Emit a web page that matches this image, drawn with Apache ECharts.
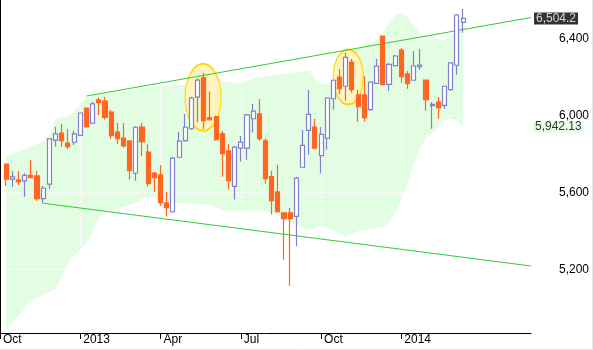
<!DOCTYPE html>
<html>
<head>
<meta charset="utf-8">
<script src="https://cdn.jsdelivr.net/npm/echarts@6/dist/echarts.min.js"></script>
<style>html,body{margin:0;padding:0;background:#fff}#c{width:593px;height:350px}</style>
</head>
<body>
<div id="c"></div>
<script>
// Weekly categories starting at the first visible quarter tick (Mon 2012-10-01)
const startDate = Date.UTC(2012, 9, 1);
const weekCount = 87;
const categories = [];
for (let c = 0; c < weekCount; c++) {
  categories.push(new Date(startDate + c * 7 * 86400000).toISOString().slice(0, 10));
}
const firstCandleIndex = 1; // 2012-10-08

const tickDates = ['2012-10-01', '2012-12-31', '2013-04-01', '2013-07-01', '2013-09-30', '2013-12-30'];
const tickLabels = ['Oct', '2013', 'Apr', 'Jul', 'Oct', '2014'];
const yTicks = [5200, 5600, 6000, 6400];

const open = [5748,5669,5665,5660,5689,5686,5568,5643,5871,5909, 5857,5861,5897,6039,5960,6081,6075,6018,5914,5883,
  5868,5700,5940,5810,5701,5691,5546,5500,5783,5869, 5931,6095,6196,5989,5994,5906,5816,5632,5830,5830,
  5983,6008,5868,5682,5603,5494,5494,5476,5731,5923, 5940,5791,5882,6087,6200,6152,6278,6107,6107,6030,
  6167,6413,6162,6259,6340,6216,6183,6254,6184,6051, 6070,6053,6134,6261,6484];
const close = [5669,5681,5656,5689,5677,5568,5622,5878,5904,5869, 5838,5904,6013,5942,6060,6067,5990,5895,5880,5842,
  5713,5939,5864,5646,5677,5547,5521,5779,5867,5939, 6091,6184,5973,5978,5874,5802,5661,5836,5862,6003,
  6023,5880,5672,5557,5500,5464,5464,5675,5845,6006, 5830,5902,6091,6183,6139,6302,6134,6046,5989,6173,
  6256,6160,6266,6309,6202,6165,6257,6262,6082,6058, 6041,6152,6273,6522,6504.2];
const low = [5634,5630,5639,5578,5677,5556,5544,5620,5838,5838, 5824,5847,5897,5935,5960,6003,5979,5879,5852,5833,
  5667,5661,5790,5630,5603,5531,5474,5495,5783,5864, 5925,5968,5930,5973,5869,5682,5615,5563,5760,5770,
  5911,5869,5646,5485,5495,5251,5116,5321,5731,5796, 5824,5698,5822,6030,6112,6077,6118,5968,5968,6025,
  6167,6160,6129,6259,6170,6139,6183,6238,6025,5931, 5983,6035,6129,6212,6430];
const high = [5748,5712,5712,5700,5769,5712,5634,5878,5942,5956, 5930,5921,6013,6039,6072,6093,6096,6029,5961,5961,
  5868,5946,5961,5850,5706,5743,5603,5784,5916,6008, 6098,6193,6221,6124,5999,5920,5852,5842,5894,6008,
  6060,6086,5880,5713,5744,5494,5520,5682,5925,6133, 5982,5940,6095,6183,6242,6326,6294,6134,6204,6173,
  6294,6413,6274,6314,6351,6231,6335,6346,6184,6070, 6096,6152,6273,6527,6553];

const bandUpper = [5790,5800,5810,5823,5836,5849,5868,5899,5982,5992, 5997,6018,6060,6094,6104,6112,6117,6122,6125,6127,
  6133,6138,6143,6148,6151,6153,6156,6158,6158,6158, 6169,6184,6200,6205,6190,6179,6174,6169,6164,6179,
  6190,6197,6203,6208,6213,6218,6222,6226,6229,6233, 6195,6164,6164,6184,6226,6273,6314,6346,6361,6377,
  6392,6429,6475,6522,6533,6512,6465,6429,6413,6405, 6397,6392,6408,6449,6481];
const bandLower = [4881,4927,4958,5000,5031,5052,5068,5083,5099,5156, 5229,5275,5301,5338,5390,5468,5504,5509,5514,5525,
  5535,5546,5566,5577,5577,5571,5551,5546,5546,5546, 5540,5540,5538,5535,5525,5509,5501,5504,5507,5504,
  5509,5509,5504,5494,5478,5462,5447,5431,5416,5405, 5410,5423,5416,5405,5384,5371,5384,5400,5405,5410,
  5416,5421,5442,5494,5561,5649,5743,5831,5883,5909, 5940,5977,5984,5966,5942.13];

const trendUpper = [['2013-01-07', 6101], ['2014-05-26', 6509]];
const trendLower = [['2012-11-19', 5544], ['2014-05-26', 5218]];

// highlight ellipses: [week index (fractional), price]
const highlights = [[32.9, 6094.5], [56.4, 6200]];

const lastClose = 6504.2;
const lastLowerBand = 5942.13;

const tickSet = new Set(tickDates);
const labelOf = {};
tickDates.forEach((d, i) => { labelOf[d] = tickLabels[i]; });
const isTick = (idx, val) => tickSet.has(val);

const candleData = open.map((o, i) => [firstCandleIndex + i, o, close[i], low[i], high[i]]);
const lowerData = bandLower.map((v, i) => [firstCandleIndex + i, v]);
const widthData = bandUpper.map((v, i) => [firstCandleIndex + i, v - bandLower[i]]);
const fmt = v => v.toLocaleString('en-US', {maximumFractionDigits: 2});

const ellipsePath = 'path://M50,0 C77.6,0 100,22.4 100,50 C100,77.6 77.6,100 50,100 C22.4,100 0,77.6 0,50 C0,22.4 22.4,0 50,0 Z';
const ellipseSizes = [[36, 67], [30, 55]];
const FONT = 'Arial, "Liberation Sans", sans-serif';

const chart = echarts.init(document.getElementById('c'), null, {renderer: 'canvas'});
chart.setOption({
  animation: false,
  backgroundColor: '#ffffff',
  grid: {left: -4.2, right: 62, top: 0, bottom: 17, containLabel: false},
  xAxis: [{
    type: 'category', data: categories, boundaryGap: false, z: 2,
    axisLine: {show: true, lineStyle: {color: '#000', width: 1}},
    axisTick: {show: true, interval: isTick, length: 6, lineStyle: {color: '#000'}},
    axisLabel: {interval: isTick, formatter: v => labelOf[v] || '', align: 'left', padding: [0, 0, 0, 3],
      margin: 1, color: '#000', fontSize: 12, fontFamily: FONT},
    splitLine: {show: true, interval: isTick, lineStyle: {color: '#ffffff', type: 'dotted', width: 1}}
  }, {
    type: 'value', min: 0, max: weekCount - 1, show: false
  }],
  yAxis: {
    type: 'value', position: 'right', min: 4870, max: 6600, z: 2,
    axisLine: {show: true, lineStyle: {color: '#000', width: 1}},
    axisTick: {show: false, customValues: yTicks},
    axisLabel: {customValues: yTicks, margin: 28, color: '#000', fontSize: 12, fontFamily: FONT,
      formatter: v => fmt(v)},
    splitLine: {show: true, lineStyle: {color: '#ffffff', type: 'dotted', width: 1}}
  },
  graphic: [
    {type: 'line', shape: {x1: 0, y1: 349.5, x2: 593, y2: 349.5}, style: {stroke: '#e6e6e6', lineWidth: 1}, silent: true},
    {type: 'line', shape: {x1: 592.5, y1: 0, x2: 592.5, y2: 350}, style: {stroke: '#e6e6e6', lineWidth: 1}, silent: true}
  ],
  series: [
    {type: 'line', data: lowerData, stack: 'band', symbol: 'none', lineStyle: {width: 0, opacity: 0}, z: 1, silent: true},
    {type: 'line', data: widthData, stack: 'band', symbol: 'none', lineStyle: {width: 0, opacity: 0},
      areaStyle: {color: '#e2fde2', opacity: 1}, z: 1, silent: true},
    {type: 'scatter', xAxisIndex: 1, data: highlights, symbol: ellipsePath,
      symbolSize: (v, p) => ellipseSizes[p.dataIndex], symbolKeepAspect: false,
      itemStyle: {color: '#fff4bf', borderColor: '#ffd700', borderWidth: 1.5, opacity: 1}, z: 3, silent: true},
    {type: 'line', data: trendUpper, symbol: 'none', lineStyle: {color: '#33cc33', width: 1}, z: 4, silent: true},
    {type: 'line', data: trendLower, symbol: 'none', lineStyle: {color: '#33cc33', width: 1}, z: 4, silent: true},
    {type: 'candlestick', data: candleData, encode: {x: 0, y: [1, 2, 3, 4]}, barWidth: 4.6, z: 5,
      itemStyle: {color: '#ffffff', color0: '#ff6622', borderColor: '#8080cc', borderColor0: '#ff6622', borderWidth: 1.2}},
    {type: 'scatter', xAxisIndex: 1, data: [[weekCount - 1, lastClose]], symbolSize: 2,
      itemStyle: {color: 'rgba(0,0,0,0)'}, clip: false, z: 6, silent: true,
      label: {show: true, position: 'right', distance: 2, formatter: p => fmt(p.value[1]),
        backgroundColor: '#000', color: '#fff', padding: [0, 2, 0, 2], lineHeight: 12, fontSize: 12, fontFamily: FONT}},
    {type: 'scatter', xAxisIndex: 1, data: [[weekCount - 1, lastLowerBand]], symbolSize: 2,
      itemStyle: {color: 'rgba(0,0,0,0)'}, clip: false, z: 6, silent: true,
      label: {show: true, position: 'right', distance: 1, formatter: p => fmt(p.value[1]),
        backgroundColor: '#e2fde2', color: '#000', padding: [0, 2, 0, 2], lineHeight: 12, fontSize: 12, fontFamily: FONT}}
  ]
});
</script>
</body>
</html>
